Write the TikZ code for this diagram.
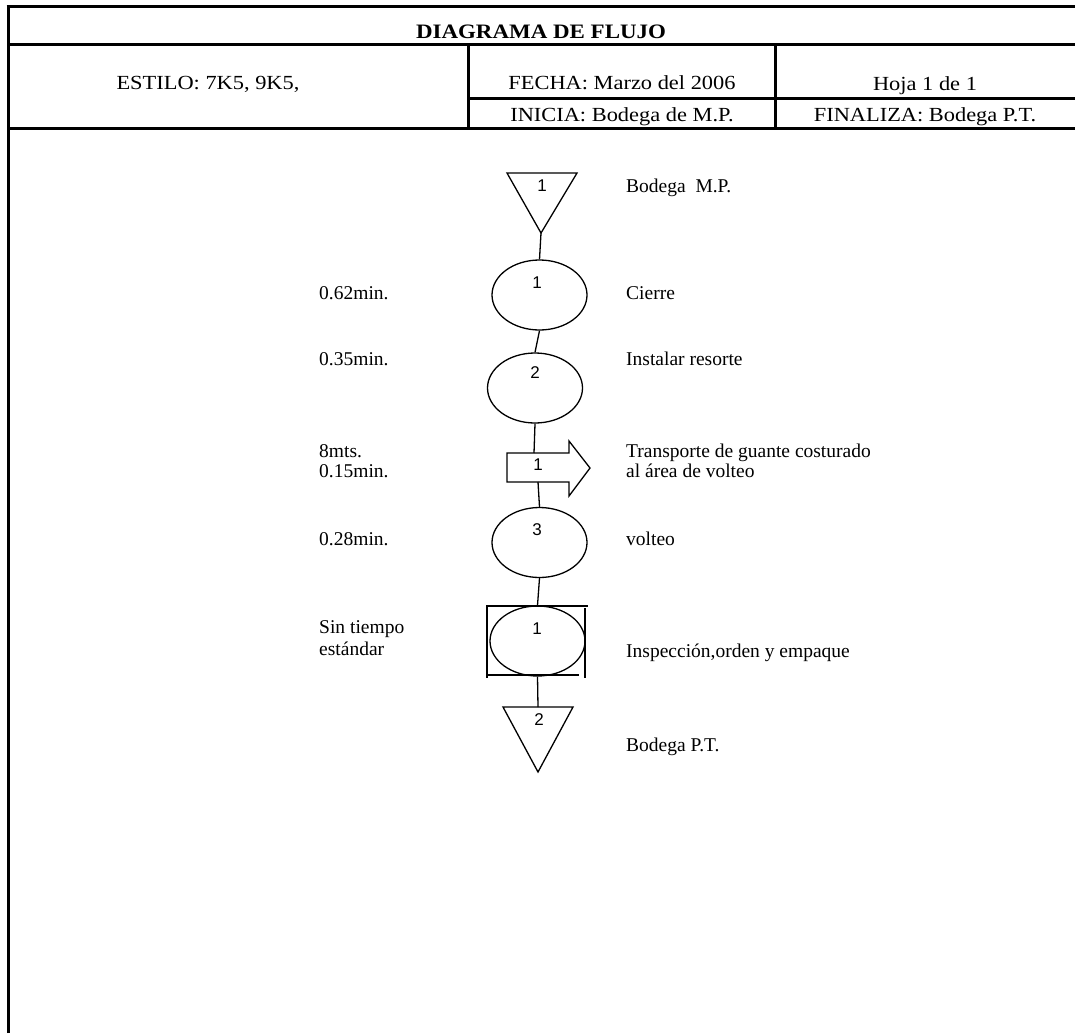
\documentclass[tikz,border=0pt]{standalone}
\usepackage{fontspec}
\setmainfont{Liberation Serif}
\newfontfamily\numfont{Liberation Sans}
\usetikzlibrary{shapes.geometric}
\newcommand{\widetext}[1]{\scalebox{1.12}[1]{#1}}
\begin{document}
\begin{tikzpicture}[x=1pt,y=-1pt,
  frame/.style={line width=3.3pt},
  sym/.style={draw, line width=1.3pt},
  oval/.style={ellipse, draw, line width=1.3pt, minimum width=95pt, minimum height=70pt, inner sep=0pt},
  link/.style={line width=1.3pt},
  lbl/.style={font=\fontsize{19.5}{21}\selectfont, inner sep=0pt, anchor=base west},
  hdr/.style={font=\fontsize{20}{23}\selectfont, inner sep=0pt, anchor=base},
  num/.style={font=\numfont\fontsize{17}{19}\selectfont, inner sep=0pt}]
\useasboundingbox (0,0) rectangle (1075,1033);

% form frame and header grid
\draw[frame] (8.3,1033) -- (8.3,5) ;
\draw[frame] (6.6,6.6) -- (1075,6.6);
\draw[frame] (8.3,44.5) -- (1075,44.5);
\draw[frame] (468.7,44.5) -- (468.7,128.5);
\draw[frame] (775.3,44.5) -- (775.3,128.5);
\draw[frame] (468.7,98.8) -- (1075,98.8);
\draw[frame] (8.3,128.5) -- (1075,128.5);

% header texts
\node[hdr, font=\bfseries\fontsize{20.5}{23}\selectfont] (title) at (541,39) {\widetext{DIAGRAMA DE FLUJO}};
\node[hdr] (estilo) at (208,89) {\widetext{ESTILO: 7K5, 9K5,}};
\node[hdr] (fecha) at (622,89) {\widetext{FECHA: Marzo del 2006}};
\node[hdr] (hoja) at (925,90) {\widetext{Hoja 1 de 1}};
\node[hdr] (inicia) at (622,121) {\widetext{INICIA: Bodega de M.P.}};
\node[hdr] (finaliza) at (925,121) {\widetext{FINALIZA: Bodega P.T.}};

% storage 1
\draw[sym] (507,173) -- (577,173) -- (541,233) -- cycle;
\coordinate (t1apex) at (541,233);
\node[num] (t1n) at (542,186) {1};

% operation 1
\node[oval] (c1) at (539.5,295) {};
\node[num] (c1n) at (537,283) {1};

% operation 2
\node[oval] (c2) at (535,388) {};
\node[num] (c2n) at (535,373) {2};

% transport 1
\draw[sym] (507,453) -- (569,453) -- (569,441) -- (590,468) -- (569,496) -- (569,482) -- (507,482) -- cycle;
\coordinate (a1top) at (534,453);
\coordinate (a1bot) at (538,482);
\node[num] (a1n) at (538,465) {1};

% operation 3
\node[oval] (c3) at (539.5,542.5) {};
\node[num] (c3n) at (537,530) {3};

% combined inspection / operation
\draw[sym] (486,606) -- (588,606);
\draw[sym] (487,606) -- (487,678);
\draw[sym] (585,608) -- (585,678);
\draw[sym] (486,675) -- (579,675);
\node[oval] (c4) at (537.5,641) {};
\node[num] (c4n) at (537,629) {1};

% storage 2
\draw[sym] (503,707) -- (573,707) -- (538,772) -- cycle;
\coordinate (t2top) at (538,707);
\node[num] (t2n) at (539,720) {2};

% connectors
\draw[link] (t1apex) -- (c1.north);
\draw[link] (c1.south) -- (c2.north);
\draw[link] (c2.south) -- (a1top);
\draw[link] (a1bot) -- (c3.north);
\draw[link] (c3.south) -- (c4.north);
\draw[link] (c4.south) -- (t2top);

% step descriptions
\node[lbl] (d0) at (626,192) {Bodega\ \ M.P.};
\node[lbl] (d1) at (626,299) {Cierre};
\node[lbl] (d2) at (626,365) {Instalar resorte};
\node[lbl] (d3) at (626,457) {Transporte de guante costurado};
\node[lbl] (d3b) at (626,477) {al área de volteo};
\node[lbl] (d4) at (626,545) {volteo};
\node[lbl] (d5) at (626,657) {Inspección,orden y empaque};
\node[lbl] (d6) at (626,751) {Bodega P.T.};

% times and distances
\node[lbl] (m1) at (319,299) {0.62min.};
\node[lbl] (m2) at (319,365) {0.35min.};
\node[lbl] (m3) at (319,457) {8mts.};
\node[lbl] (m3b) at (319,477) {0.15min.};
\node[lbl] (m4) at (319,545) {0.28min.};
\node[lbl] (m5) at (319,633) {Sin tiempo};
\node[lbl] (m5b) at (319,655) {estándar};
\end{tikzpicture}
\end{document}
